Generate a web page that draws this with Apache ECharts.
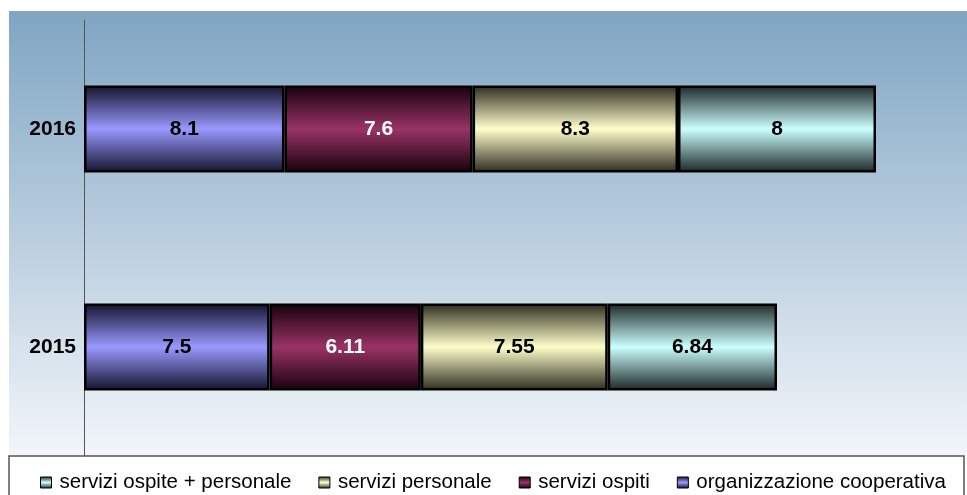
<!DOCTYPE html>
<html>
<head>
<meta charset="utf-8">
<script src="https://cdn.jsdelivr.net/npm/echarts@6/dist/echarts.min.js"></script>
<style>
  html, body { margin: 0; padding: 0; background: #fff; }
  #chart { width: 967px; height: 495px; }
</style>
</head>
<body>
<div id="chart"></div>
<script>
var years = ['2015', '2016'];
var organizzazione = [7.5, 8.1];
var ospiti = [6.11, 7.6];
var personale = [7.55, 8.3];
var ospitePersonale = [6.84, 8];

function barGrad(edge, mid) {
  return new echarts.graphic.LinearGradient(0, 0, 0, 1, [
    { offset: 0, color: edge },
    { offset: 0.5, color: mid },
    { offset: 1, color: edge }
  ]);
}

var chart = echarts.init(document.getElementById('chart'));

function makeSeries(name, values, edge, mid, labelColor) {
  return {
    name: name,
    type: 'bar',
    stack: 'tot',
    barWidth: '40%',
    data: values,
    itemStyle: {
      color: barGrad(edge, mid),
      borderColor: '#000',
      borderWidth: 2.5
    },
    label: {
      show: true,
      position: 'inside',
      color: labelColor,
      fontFamily: 'Liberation Sans',
      fontWeight: 'bold',
      fontSize: 21
    },
    emphasis: { disabled: true }
  };
}

var option = {
  animation: false,
  backgroundColor: '#ffffff',
  graphic: [
    {
      type: 'rect',
      z: -10,
      shape: { x: 9, y: 11, width: 958, height: 446 },
      style: {
        fill: new echarts.graphic.LinearGradient(0, 0, 0, 1, [
          { offset: 0, color: '#7fa5c3' },
          { offset: 1, color: '#f3f6fa' }
        ])
      }
    },
    {
      type: 'rect',
      z: -5,
      shape: { x: 9, y: 456, width: 955, height: 45 },
      style: { fill: '#ffffff', stroke: '#555555', lineWidth: 1.5 }
    }
  ],
  grid: { left: 84, top: 20, width: 866.25, height: 436 },
  legend: {
    left: 35,
    top: 467,
    itemWidth: 11,
    itemHeight: 11,
    itemGap: 27,
    icon: 'rect',
    itemStyle: { borderColor: '#000', borderWidth: 1 },
    textStyle: { fontFamily: 'Liberation Sans', fontSize: 20.5, color: '#000', padding: [0, 0, 0, 3] },
    data: ['servizi ospite + personale', 'servizi personale', 'servizi ospiti', 'organizzazione cooperativa']
  },
  xAxis: {
    type: 'value',
    min: 0,
    max: 35,
    show: false
  },
  yAxis: {
    type: 'category',
    data: years,
    axisLine: { show: true, lineStyle: { color: '#555', width: 1 } },
    axisTick: { show: false },
    axisLabel: {
      margin: 8,
      color: '#000',
      fontFamily: 'Liberation Sans',
      fontWeight: 'bold',
      fontSize: 21
    }
  },
  series: [
    makeSeries('organizzazione cooperativa', organizzazione, '#12122a', '#9999ff', '#000'),
    makeSeries('servizi ospiti', ospiti, '#16000a', '#993366', '#fff'),
    makeSeries('servizi personale', personale, '#2a2a1e', '#ffffcc', '#000'),
    makeSeries('servizi ospite + personale', ospitePersonale, '#1a2424', '#ccffff', '#000')
  ]
};

chart.setOption(option);
</script>
</body>
</html>
